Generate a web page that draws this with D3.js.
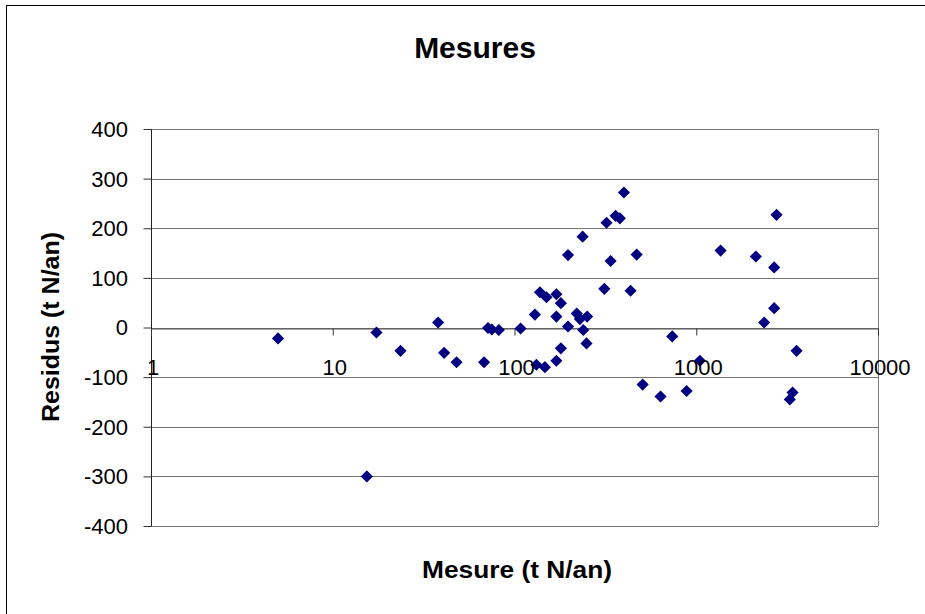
<!DOCTYPE html>
<html lang="fr">
<head>
<meta charset="UTF-8">
<title>Mesures</title>
<script src="https://d3js.org/d3.v7.min.js"></script>
<style>
	body, html {
		margin: 0;
		padding: 0;
		background: #fff;
		overflow: hidden;
	}
	svg {
		display: block;
		font-family: "Liberation Sans", Arial, sans-serif;
	}
	.grid line {
		stroke: #737373;
		shape-rendering: crispEdges;
	}
	.tick-label {
		font-size: 22px;
		fill: #000;
	}
	.axis-title {
		font-size: 23px;
		font-weight: bold;
	}
</style>
</head>
<body>
<svg></svg>
<script>
	// values
	const mesure = [5, 15.4, 17.4, 23.6, 38, 41, 48, 68, 71.5, 75, 82, 108,
		129.5, 132, 138, 147, 150, 170, 170, 170, 180, 180, 197, 197, 220, 229,
		237, 239, 249, 251, 312, 321, 338, 360, 380, 400, 435, 470, 507, 636,
		738, 885, 1047, 1361, 2128, 2365, 2684, 2684, 2765, 3273, 3388, 3563];
	const residus = [-22, -300, -10, -47, 10, -51, -70, -70, -1, -4, -5, -2,
		26, -75, 71, -80, 61, 67, 22, -67, 49, -42, 2, 146, 28, 17,
		183, -5, -32, 22, 78, 211, 134, 225, 220, 272, 74, 147, -115, -139,
		-18, -128, -67, 155, 143, 10, 121, 39, 227, -145, -131, -47];
	const xTicks = [1, 10, 100, 1000, 10000];
	const yTicks = [-400, -300, -200, -100, 0, 100, 200, 300, 400];

	const width = 925, height = 614;
	const svg = d3.select("svg").attr("width", width).attr("height", height);

	const x = d3.scaleLog().domain([1, 10000]).range([151, 878]);
	const y = d3.scaleLinear().domain([-400, 400]).range([526, 129]);

	// outer chart frame (runs off the picture on right and bottom)
	svg.append("rect")
		.attr("x", 6.5).attr("y", 5.5)
		.attr("width", 1000).attr("height", 1000)
		.attr("fill", "none").attr("stroke", "#000");

	// horizontal gridlines
	svg.append("g").attr("class", "grid")
		.selectAll("line")
		.data(yTicks)
		.enter().append("line")
		.attr("x1", x(1)).attr("x2", x(10000))
		.attr("y1", d => Math.round(y(d)) + 0.5)
		.attr("y2", d => Math.round(y(d)) + 0.5);

	// plot area right border
	svg.append("line")
		.attr("x1", x(10000) + 0.5).attr("x2", x(10000) + 0.5)
		.attr("y1", y(400)).attr("y2", y(-400))
		.attr("stroke", "#808080");

	// y axis
	const yAxis = svg.append("g")
		.attr("transform", `translate(${Math.round(x(1)) + 0.5},0)`)
		.call(d3.axisLeft(y).tickValues(yTicks).tickSize(8).tickFormat(""));
	yAxis.select(".domain").attr("stroke", "#222").attr("d", `M0,${y(400)}V${y(-400)}`);
	yAxis.selectAll(".tick line").attr("stroke", "#333");

	svg.append("g")
		.selectAll("text")
		.data(yTicks)
		.enter().append("text")
		.attr("class", "tick-label")
		.attr("x", 128)
		.attr("y", d => y(d))
		.attr("dy", "0.36em")
		.attr("text-anchor", "end")
		.text(d => d);

	// x axis crosses at 0
	const xAxis = svg.append("g")
		.attr("transform", `translate(0,${Math.round(y(0)) + 0.5})`)
		.call(d3.axisBottom(x).tickValues(xTicks).tickSize(7).tickFormat(""));
	xAxis.select(".domain").attr("stroke", "#555");
	xAxis.selectAll(".tick line").attr("stroke", "#333");

	// points
	const diamond = d3.symbol().type(d3.symbolSquare).size(74);
	svg.append("g")
		.selectAll("path")
		.data(mesure.map((m, i) => [m, residus[i]]))
		.enter().append("path")
		.attr("d", diamond)
		.attr("transform", d => `translate(${x(d[0])},${y(d[1])}) rotate(45)`)
		.attr("fill", "#000080");

	// x tick labels, drawn over the points like the original
	svg.append("g")
		.selectAll("text")
		.data(xTicks)
		.enter().append("text")
		.attr("class", "tick-label")
		.attr("x", d => x(d) + 2)
		.attr("y", 375)
		.attr("text-anchor", "middle")
		.text(d => d);

	// titles
	svg.append("text")
		.attr("x", 475).attr("y", 58)
		.attr("text-anchor", "middle")
		.attr("font-size", 30).attr("font-weight", "bold")
		.text("Mesures");

	svg.append("text")
		.attr("class", "axis-title")
		.attr("x", 517).attr("y", 578)
		.attr("text-anchor", "middle")
		.attr("textLength", 190).attr("lengthAdjust", "spacingAndGlyphs")
		.text("Mesure (t N/an)");

	svg.append("text")
		.attr("class", "axis-title")
		.attr("transform", "translate(59,327) rotate(-90)")
		.attr("text-anchor", "middle")
		.attr("textLength", 190).attr("lengthAdjust", "spacingAndGlyphs")
		.text("Residus (t N/an)");
</script>
</body>
</html>
